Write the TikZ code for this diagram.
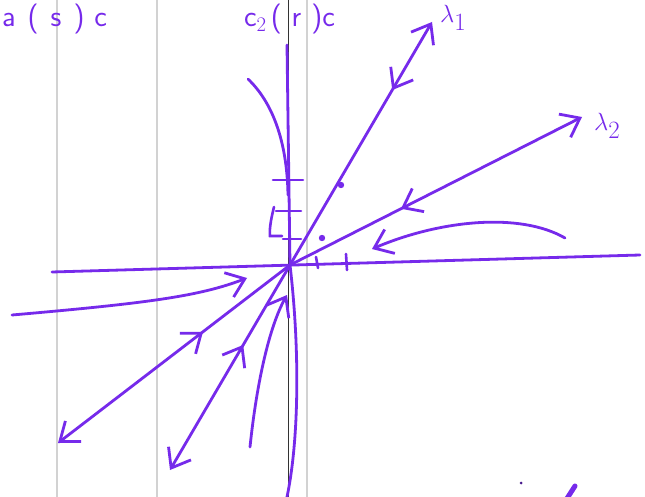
\documentclass[tikz,border=0pt]{standalone}
\usetikzlibrary{arrows.meta,decorations.markings}
\definecolor{ink}{RGB}{118,42,235}
\tikzset{
  pen/.style={draw=ink, line width=2.8pt, line cap=round, line join=round},
  tip/.style={-{Straight Barb[length=17pt,width=26pt,line width=2.8pt]}},
  midin/.style={postaction={decorate}, decoration={markings,
      mark=at position #1 with {\arrowreversed[ink]{Straight Barb[length=17pt,width=26pt,line width=2.8pt]}}}},
  gridline/.style={draw=gray!35, line width=1.2pt},
  axisline/.style={draw=black!80, line width=0.6pt},
  tick/.style={draw=ink, line width=2.6pt, line cap=round},
  hand/.style={text=ink, font=\sffamily\fontsize{30}{30}\selectfont, inner sep=0pt},
  lab/.style={text=ink, font=\fontsize{40}{40}\selectfont, inner sep=0pt}
}
\begin{document}
\begin{tikzpicture}[x=1pt,y=-1pt]
\useasboundingbox (0,0) rectangle (645,497);
\clip (0,0) rectangle (645,497);
\fill[white] (0,0) rectangle (645,497);
% paper lines
\coordinate (g1t) at (57,0);  \coordinate (g1b) at (57,497);
\coordinate (g2t) at (157,0); \coordinate (g2b) at (157,497);
\coordinate (g3t) at (307,0); \coordinate (g3b) at (307,497);
\coordinate (g4t) at (288,0); \coordinate (g4b) at (288,497);
\draw[gridline] (g1t) -- (g1b);
\draw[gridline] (g2t) -- (g2b);
\draw[gridline] (g3t) -- (g3b);
\draw[axisline] (g4t) -- (g4b);
% top handwriting
\node[hand, anchor=base west] (t1) at (2,27) {a\hspace{12pt}(\hspace{12pt}s\hspace{12pt})\hspace{10pt}c};
\node[hand, anchor=base west] (t2) at (244,27) {c$_2$\hspace{4pt}(\hspace{10pt}r\hspace{10pt})c};
% key points
\coordinate (O) at (290,265);
\coordinate (L1a) at (432,22);
\coordinate (L1b) at (170,470);
\coordinate (L2a) at (582,117);
\coordinate (L2b) at (58,443);
\coordinate (Xl) at (52,272);
\coordinate (Xr) at (640,255);
\coordinate (Yt) at (287,45);
\coordinate (Yb) at (287,497);
% axes
\draw[pen] (Xl) -- (Xr);
\draw[pen] (Yt) -- (O);
\draw[pen] (O) .. controls (300,350) and (299,440) .. (Yb);
% eigen lines
\draw[pen, tip, midin=0.72] (O) -- (L1a);
\draw[pen, tip, midin=0.39] (O) -- (L1b);
\draw[pen, tip, midin=0.38] (O) -- (L2a);
\draw[pen, tip, midin=0.375] (O) -- (L2b);
\node[lab, anchor=west] (l1) at (440,18) {$\lambda_1$};
\node[lab, anchor=west] (l2) at (594,126) {$\lambda_2$};
% other trajectories
\coordinate (c1s) at (248,79);
\coordinate (c1e) at (288,195);
\draw[pen] (c1s) .. controls (272,102) and (287,140) .. (c1e);
\coordinate (c2s) at (12,315);
\coordinate (c2e) at (247,278);
\draw[pen, tip] (c2s) .. controls (150,303) and (200,296) .. (c2e);
\coordinate (c3s) at (565,238);
\coordinate (c3e) at (372,249);
\draw[pen, tip] (c3s) .. controls (520,212) and (440,220) .. (c3e);
\coordinate (c4s) at (250,447);
\coordinate (c4e) at (287,295);
\draw[pen, tip] (c4s) .. controls (257,380) and (270,325) .. (c4e);
% ticks on y axis
\coordinate (ty1a) at (273,180); \coordinate (ty1b) at (303,180);
\coordinate (ty2a) at (276,211); \coordinate (ty2b) at (301,211);
\coordinate (ty3a) at (283,239); \coordinate (ty3b) at (301,239);
\draw[tick] (ty1a) -- (ty1b);
\draw[tick] (ty2a) -- (ty2b);
\draw[tick] (ty3a) -- (ty3b);
\coordinate (br1) at (274,207);
\coordinate (br2) at (270,236);
\coordinate (br3) at (282,236);
\draw[tick] (br1) .. controls (272,215) and (269,228) .. (br2) -- (br3);
% ticks on x axis
\coordinate (tx1a) at (316,257); \coordinate (tx1b) at (318,268);
\coordinate (tx2a) at (346,254); \coordinate (tx2b) at (347,270);
\draw[tick] (tx1a) -- (tx1b);
\draw[tick] (tx2a) -- (tx2b);
% dots on eigenlines
\fill[ink] (341,185) circle (3.2pt) coordinate (d1);
\fill[ink] (322,238) circle (3.2pt) coordinate (d2);
% stray marks bottom right
\coordinate (s1) at (566,500);
\coordinate (s2) at (575,486);
\draw[pen, line width=5pt] (s1) -- (s2);
\fill[ink!60!black] (521,483) circle (1.5pt) coordinate (d3);
\end{tikzpicture}
\end{document}
